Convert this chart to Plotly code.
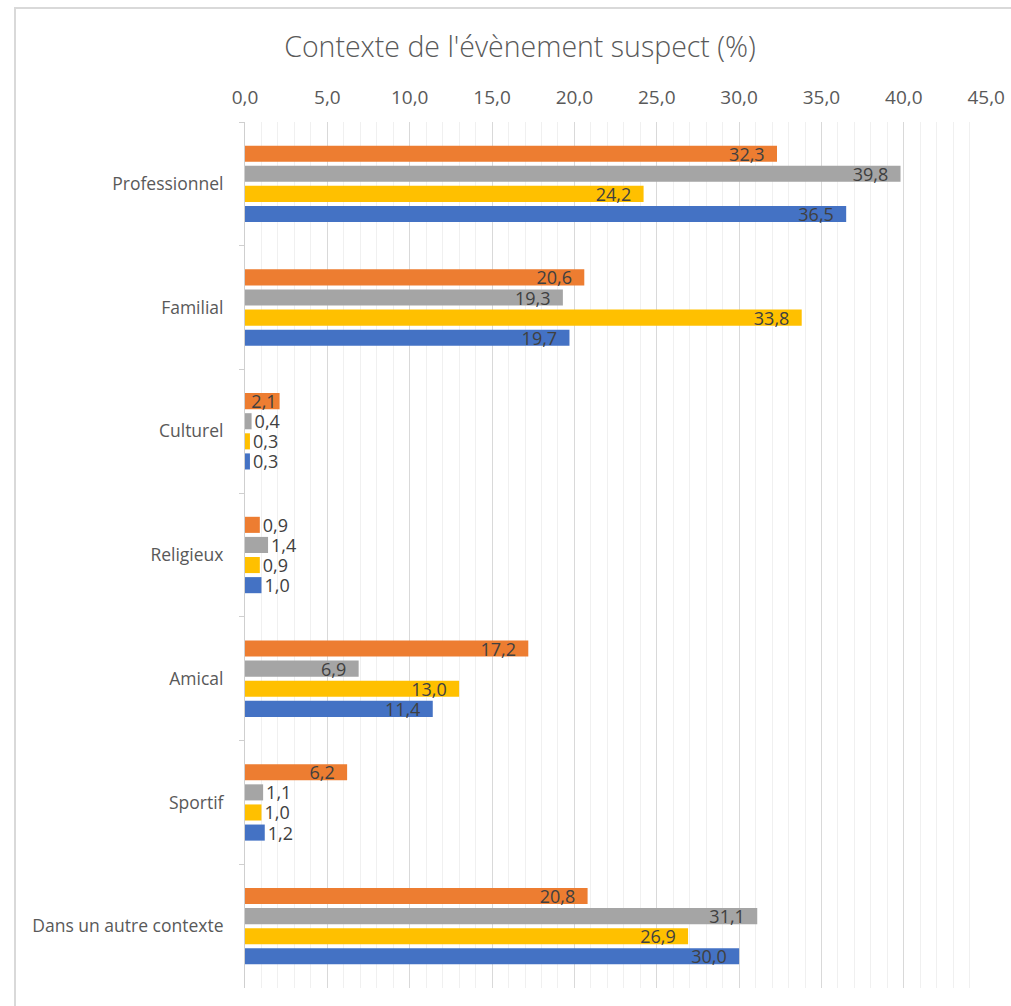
import plotly.graph_objects as go

categories = ["Professionnel", "Familial", "Culturel", "Religieux", "Amical", "Sportif", "Dans un autre contexte"]
series_names = ["Série 1", "Série 2", "Série 3", "Série 4"]
values_orange = [32.3, 20.6, 2.1, 0.9, 17.2, 6.2, 20.8]
values_gray = [39.8, 19.3, 0.4, 1.4, 6.9, 1.1, 31.1]
values_yellow = [24.2, 33.8, 0.3, 0.9, 13.0, 1.0, 26.9]
values_blue = [36.5, 19.7, 0.3, 1.0, 11.4, 1.2, 30.0]
colors = ["#ED7D31", "#A5A5A5", "#FFC000", "#4472C4"]
title_text = "Contexte de l'évènement suspect (%)"

W, H = 1011, 1006
L = 245
T = 122
R = W - 987
B = H - 988

NB = "\u00a0"


def label(v):
    s = f"{v:.1f}".replace(".", ",")
    if v >= 5:
        return s + NB * 2
    return s


def pos(v):
    return "inside" if v >= 2 else "outside"


fig = go.Figure()
for name, vals, col in zip(series_names, [values_orange, values_gray, values_yellow, values_blue], colors):
    fig.add_trace(go.Bar(
        name=name,
        y=categories,
        x=vals,
        orientation="h",
        marker=dict(color=col, line=dict(width=0)),
        text=[label(v) for v in vals],
        textposition=[pos(v) for v in vals],
        insidetextanchor="end",
        constraintext="none",
        cliponaxis=False,
        textangle=0,
        textfont=dict(family="Open Sans", size=18, color="#404040"),
        insidetextfont=dict(family="Open Sans", size=18, color="#404040"),
        outsidetextfont=dict(family="Open Sans", size=18, color="#404040"),
        hoverinfo="skip",
    ))

pw = W - L - R
ph = H - T - B

fig.update_layout(
    width=W, height=H,
    margin=dict(l=L, r=R, t=T, b=B, pad=0, autoexpand=False),
    paper_bgcolor="white",
    plot_bgcolor="white",
    barmode="group",
    bargap=0.35,
    bargroupgap=0.2,
    showlegend=False,
    separators=", ",
    title=dict(
        text=title_text,
        x=520 / W, xanchor="center",
        y=1 - 47 / H, yanchor="middle",
        xref="container",
        yref="container",
        font=dict(family="Open Sans", size=28.5, color="#595959", weight=300),
    ),
    xaxis=dict(
        side="top",
        range=[0, 45.05],
        dtick=5,
        tick0=0,
        tickformat=".1f",
        showgrid=True,
        gridcolor="#d9d9d9",
        gridwidth=1,
        minor=dict(dtick=1, showgrid=True, gridcolor="#f0f0f0", gridwidth=1),
        zeroline=False,
        showline=False,
        ticks="",
        automargin=False,
        ticklabelstandoff=13,
        ticklabeloverflow="allow",
        tickfont=dict(family="Open Sans", size=19, color="#595959"),
        fixedrange=True,
    ),
    yaxis=dict(
        categoryorder="array",
        categoryarray=categories,
        autorange="reversed",
        showgrid=False,
        zeroline=False,
        showline=True,
        linecolor="#cfcfcf",
        linewidth=1,
        ticks="outside",
        tickson="boundaries",
        ticklen=5,
        tickcolor="#cfcfcf",
        automargin=False,
        ticklabelstandoff=17,
        tickfont=dict(family="Open Sans", size=17.5, color="#595959"),
        fixedrange=True,
    ),
    shapes=[dict(
        type="rect", xref="paper", yref="paper",
        x0=(15 - L) / pw, x1=1.2,
        y0=-0.2, y1=1 + (T - 8) / ph,
        line=dict(color="#d9d9d9", width=2),
        fillcolor="rgba(0,0,0,0)",
        layer="below",
    )],
)

fig.write_html(
    "out.html",
    config={"displayModeBar": False, "staticPlot": True},
    post_script="document.body.style.margin='0';document.body.style.overflow='hidden';",
)
